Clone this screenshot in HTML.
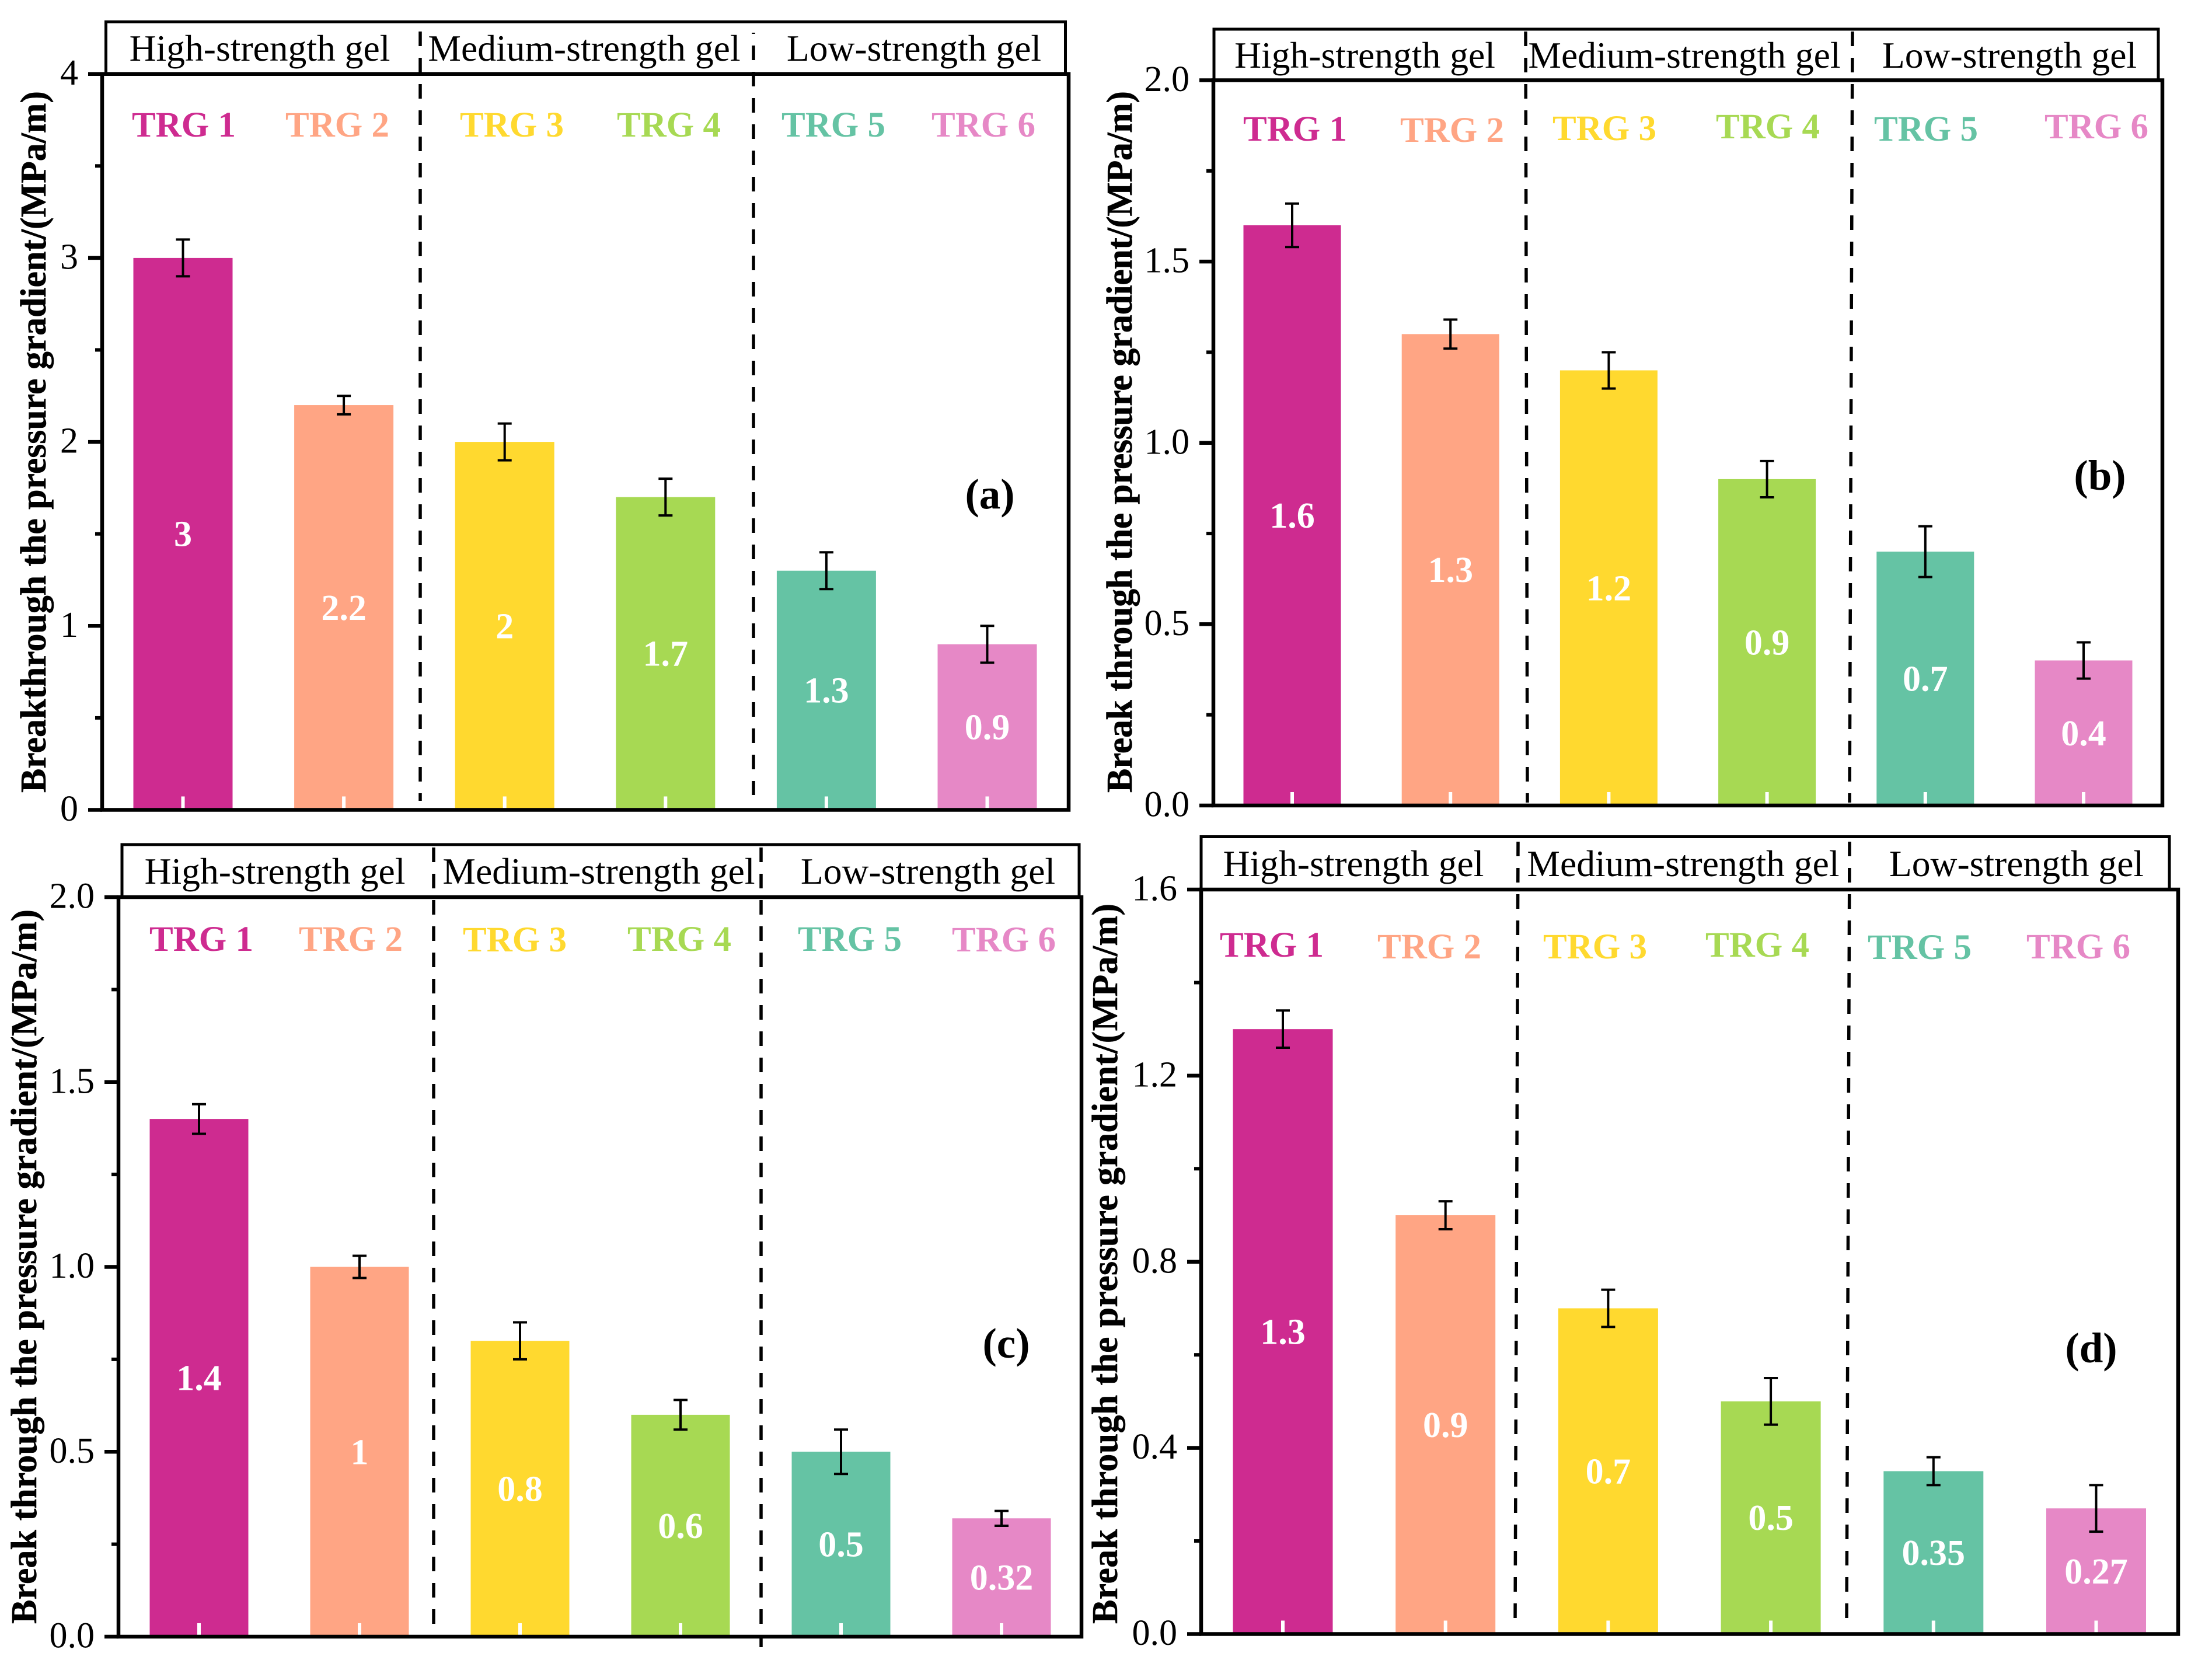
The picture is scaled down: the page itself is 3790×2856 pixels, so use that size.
<!DOCTYPE html>
<html lang="en">
<head>
<meta charset="utf-8">
<title>Breakthrough pressure gradient of TRG gels</title>
<style>
html,body{margin:0;padding:0;background:#fff;}
svg{display:block;}
text{font-family:"Liberation Serif",serif;}
.hdr{font-size:63.6px;text-anchor:middle;fill:#000;}
.ttl{font-size:62px;font-weight:bold;fill:#000;stroke:#000;stroke-width:.5;}
.trg{font-size:61px;font-weight:bold;text-anchor:middle;}
.tag{font-size:73px;font-weight:bold;text-anchor:middle;fill:#000;}
.dash{stroke:#000;stroke-width:5.5;stroke-dasharray:25 20;fill:none;}
.box{fill:none;stroke:#000;stroke-width:5;}
.frame{fill:none;stroke:#000;stroke-width:6.5;}
.c1{fill:#CE2B90;}.c2{fill:#FFA584;}.c3{fill:#FFD92F;}.c4{fill:#A7D953;}.c5{fill:#65C3A4;}.c6{fill:#E688C6;}
</style>
</head>
<body>
<svg xmlns="http://www.w3.org/2000/svg" width="3790" height="2856" viewBox="0 0 3790 2856">
<rect width="3790" height="2856" fill="#fff"/>

<g id="panel-a">
  <rect class="box" x="181.5" y="37.5" width="1644" height="90"/>
  <text class="hdr" x="445" y="104">High-strength gel</text>
  <text class="hdr" x="1001" y="104">Medium-strength gel</text>
  <text class="hdr" x="1566" y="104">Low-strength gel</text>
  <g class="marks"></g>
  <rect class="frame" x="175" y="126.7" width="1656" height="1260.8"/>
  <line class="dash" x1="720" y1="54" x2="720" y2="1372"/>
  <line class="dash" x1="1291" y1="56" x2="1291" y2="1362" stroke-dashoffset="23"/>
  <g class="axis"></g>
  <text class="ttl" transform="translate(78,1358) rotate(-90)" textLength="1202">Breakthrough the pressure gradient/(MPa/m)</text>
  <text class="trg c1" x="315" y="234">TRG 1</text>
  <text class="trg c2" x="578" y="234">TRG 2</text>
  <text class="trg c3" x="877" y="234">TRG 3</text>
  <text class="trg c4" x="1146" y="234">TRG 4</text>
  <text class="trg c5" x="1428" y="234">TRG 5</text>
  <text class="trg c6" x="1685" y="234">TRG 6</text>
  <text class="tag" x="1696" y="871">(a)</text>
</g>

<g id="panel-b">
  <rect class="box" x="2080" y="50" width="1618" height="88"/>
  <text class="hdr" x="2338.5" y="116">High-strength gel</text>
  <text class="hdr" x="2886" y="116">Medium-strength gel</text>
  <text class="hdr" x="3443" y="116">Low-strength gel</text>
  <g class="marks"></g>
  <rect class="frame" x="2079" y="137.5" width="1626" height="1242.5"/>
  <line class="dash" x1="2614" y1="54" x2="2617" y2="1375"/>
  <line class="dash" x1="3174" y1="54" x2="3169" y2="1375"/>
  <g class="axis"></g>
  <text class="ttl" transform="translate(1939,1358) rotate(-90)" textLength="1202">Break through the pressure gradient/(MPa/m)</text>
  <text class="trg c1" x="2219" y="241">TRG 1</text>
  <text class="trg c2" x="2488" y="243">TRG 2</text>
  <text class="trg c3" x="2749" y="240">TRG 3</text>
  <text class="trg c4" x="3029" y="237">TRG 4</text>
  <text class="trg c5" x="3300" y="241">TRG 5</text>
  <text class="trg c6" x="3592" y="237">TRG 6</text>
  <text class="tag" x="3598" y="839">(b)</text>
</g>

<g id="panel-c">
  <rect class="box" x="209" y="1447" width="1640" height="90"/>
  <text class="hdr" x="471" y="1514">High-strength gel</text>
  <text class="hdr" x="1026" y="1514">Medium-strength gel</text>
  <text class="hdr" x="1590" y="1514">Low-strength gel</text>
  <g class="marks"></g>
  <rect class="frame" x="203" y="1537" width="1650" height="1267"/>
  <line class="dash" x1="743" y1="1452" x2="743" y2="2800"/>
  <line class="dash" x1="1304" y1="1452" x2="1304" y2="2822"/>
  <g class="axis"></g>
  <text class="ttl" transform="translate(62,2782) rotate(-90)" textLength="1224">Break through the pressure gradient/(MPa/m)</text>
  <text class="trg c1" x="345" y="1629">TRG 1</text>
  <text class="trg c2" x="601" y="1629">TRG 2</text>
  <text class="trg c3" x="882" y="1630">TRG 3</text>
  <text class="trg c4" x="1164" y="1629">TRG 4</text>
  <text class="trg c5" x="1456" y="1629">TRG 5</text>
  <text class="trg c6" x="1720" y="1630">TRG 6</text>
  <text class="tag" x="1724" y="2326">(c)</text>
</g>

<g id="panel-d">
  <rect class="box" x="2058" y="1433.5" width="1659" height="90.5"/>
  <text class="hdr" x="2319" y="1501">High-strength gel</text>
  <text class="hdr" x="2884" y="1501">Medium-strength gel</text>
  <text class="hdr" x="3455" y="1501">Low-strength gel</text>
  <g class="marks"></g>
  <rect class="frame" x="2058" y="1524" width="1674" height="1275.5"/>
  <line class="dash" x1="2601" y1="1442" x2="2596" y2="2778"/>
  <line class="dash" x1="3169" y1="1442" x2="3164" y2="2778"/>
  <g class="axis"></g>
  <text class="ttl" transform="translate(1914,2782) rotate(-90)" textLength="1234">Break through the pressure gradient/(MPa/m)</text>
  <text class="trg c1" x="2179" y="1639">TRG 1</text>
  <text class="trg c2" x="2449" y="1642">TRG 2</text>
  <text class="trg c3" x="2733" y="1642">TRG 3</text>
  <text class="trg c4" x="3011" y="1639">TRG 4</text>
  <text class="trg c5" x="3289" y="1643">TRG 5</text>
  <text class="trg c6" x="3561" y="1642">TRG 6</text>
  <text class="tag" x="3583" y="2334">(d)</text>
</g>
</svg>

<script>
// Chart data
var categories = ["TRG 1", "TRG 2", "TRG 3", "TRG 4", "TRG 5", "TRG 6"];
var valuesA = [3, 2.2, 2, 1.7, 1.3, 0.9];
var errorsA = [0.1, 0.05, 0.1, 0.1, 0.1, 0.1];
var valuesB = [1.6, 1.3, 1.2, 0.9, 0.7, 0.4];
var errorsB = [0.06, 0.04, 0.05, 0.05, 0.07, 0.05];
var valuesC = [1.4, 1, 0.8, 0.6, 0.5, 0.32];
var errorsC = [0.04, 0.03, 0.05, 0.04, 0.06, 0.02];
var valuesD = [1.3, 0.9, 0.7, 0.5, 0.35, 0.27];
var errorsD = [0.04, 0.03, 0.04, 0.05, 0.03, 0.05];
var ticksA = ["0", "1", "2", "3", "4"];
var ticksB = ["0.0", "0.5", "1.0", "1.5", "2.0"];
var ticksC = ["0.0", "0.5", "1.0", "1.5", "2.0"];
var ticksD = ["0.0", "0.4", "0.8", "1.2", "1.6"];
var barColors = ["#CE2B90", "#FFA584", "#FFD92F", "#A7D953", "#65C3A4", "#E688C6"];

// Panel geometry (pixels), kept apart from the data
var frameA = {id:"panel-a", left:175, right:1831, top:126.7, bottom:1387.5, first:313.5, step:275.6, width:170};
var frameB = {id:"panel-b", left:2079, right:3705, top:137.5, bottom:1380, first:2214, step:271.2, width:167};
var frameC = {id:"panel-c", left:203, right:1853, top:1537, bottom:2804, first:341, step:275, width:169};
var frameD = {id:"panel-d", left:2058, right:3732, top:1524, bottom:2799.5, first:2198, step:278.7, width:171};

var NS = "http://www.w3.org/2000/svg";
function mk(parent, tag, attrs) {
  var el = document.createElementNS(NS, tag);
  for (var k in attrs) el.setAttribute(k, attrs[k]);
  parent.appendChild(el);
  return el;
}

function drawPanel(frame, values, errors, tickLabels) {
  var root = document.getElementById(frame.id);
  var marks = root.querySelector(".marks");
  var axis = root.querySelector(".axis");
  var yMax = parseFloat(tickLabels[tickLabels.length - 1]);
  function y(v) { return frame.bottom - (v / yMax) * (frame.bottom - frame.top); }
  function x(i) { return frame.first + i * frame.step; }

  values.forEach(function (v, i) {
    var cx = x(i), w = frame.width;
    var bar = mk(marks, "rect", {x: cx - w / 2, y: y(v), width: w, height: frame.bottom - y(v), fill: barColors[i]});
    
    

    var tick = mk(marks, "rect", {x: cx - 3, y: frame.bottom - 23, width: 6, height: 20, fill: "#fff"});
    
    

    var label = mk(marks, "text", {x: cx, y: y(v / 2) + 21, "font-size": 62, "font-weight": "bold", "text-anchor": "middle", fill: "#fff"});
    label.textContent = String(v);
    
    

    var e = errors[i];
    var path = "M" + (cx - 12) + " " + y(v + e) + "H" + (cx + 12) +
               "M" + cx + " " + y(v + e) + "V" + y(v - e) +
               "M" + (cx - 12) + " " + y(v - e) + "H" + (cx + 12);
    var err = mk(marks, "path", {d: path, fill: "none", stroke: "#000", "stroke-width": 4});
    
    
  });

  tickLabels.forEach(function (t, i) {
    var v = parseFloat(t);
    var major = mk(axis, "line", {x1: frame.left - 24, x2: frame.left, y1: y(v), y2: y(v), stroke: "#000", "stroke-width": 6.5});
    
    

    var txt = mk(axis, "text", {x: frame.left - 41, y: y(v) + 18.5, "font-size": 62, "text-anchor": "end", fill: "#000"});
    txt.textContent = t;
    
    

    if (i < tickLabels.length - 1) {
      var mid = (v + parseFloat(tickLabels[i + 1])) / 2;
      var minor = mk(axis, "line", {x1: frame.left - 12, x2: frame.left, y1: y(mid), y2: y(mid), stroke: "#000", "stroke-width": 6});
      
      
    }
  });
}

drawPanel(frameA, valuesA, errorsA, ticksA);
drawPanel(frameB, valuesB, errorsB, ticksB);
drawPanel(frameC, valuesC, errorsC, ticksC);
drawPanel(frameD, valuesD, errorsD, ticksD);
</script>
</body>
</html>
